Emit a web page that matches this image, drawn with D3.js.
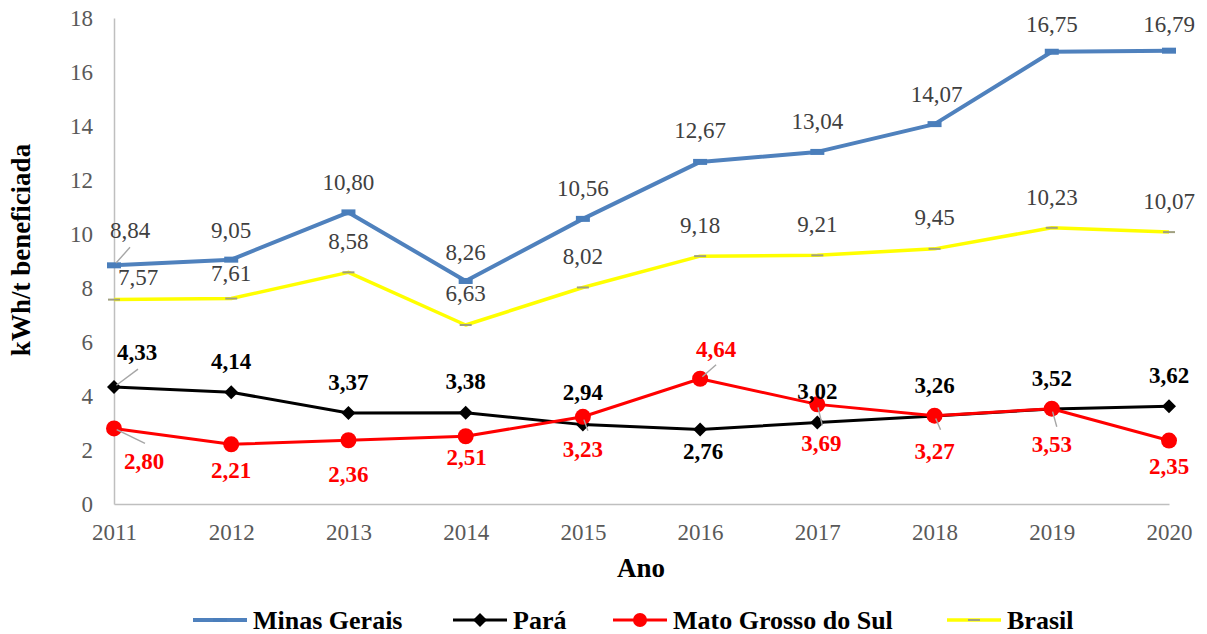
<!DOCTYPE html>
<html><head><meta charset="utf-8">
<script src="https://cdn.jsdelivr.net/npm/d3@7"></script>
<style>body{margin:0;background:#fff}svg{display:block}
svg text{font-family:"Liberation Serif","Times New Roman",Times,serif}</style>
</head><body><svg id="c" width="1207" height="634"></svg>
<script>
const years = ["2011","2012","2013","2014","2015","2016","2017","2018","2019","2020"];
const minasGerais = [8.84,9.05,10.80,8.26,10.56,12.67,13.04,14.07,16.75,16.79];
const para = [4.33,4.14,3.37,3.38,2.94,2.76,3.02,3.26,3.52,3.62];
const matoGrossoDoSul = [2.80,2.21,2.36,2.51,3.23,4.64,3.69,3.27,3.53,2.35];
const brasil = [7.57,7.61,8.58,6.63,8.02,9.18,9.21,9.45,10.23,10.07];
const yTicks = [0,2,4,6,8,10,12,14,16,18];
const seriesNames = ["Minas Gerais","Pará","Mato Grosso do Sul","Brasil"];

const svg = d3.select("#c");
const x = d3.scalePoint().domain(years).range([114,1169]);
const y = d3.scaleLinear().domain([0,18]).range([504,18]);
const fmt = v => v.toFixed(2).replace(".",",");

// axes
const yAx = svg.append("g").attr("transform","translate(114,0)")
  .call(d3.axisLeft(y).tickValues(yTicks).tickSize(0).tickPadding(21));
yAx.select(".domain").attr("stroke","#bfbfbf").attr("stroke-width",1.5);
yAx.selectAll("text").attr("font-size",23).attr("fill","#595959");
const xAx = svg.append("g").attr("transform","translate(0,504)")
  .call(d3.axisBottom(x).tickSize(0).tickPadding(20));
xAx.select(".domain").attr("stroke","#bfbfbf").attr("stroke-width",1.5);
xAx.selectAll("text").attr("font-size",23).attr("fill","#595959");

svg.append("text").attr("x",641).attr("y",577).attr("text-anchor","middle")
  .attr("font-weight","bold").attr("font-size",27).text("Ano");
svg.append("text").attr("transform","translate(30,250) rotate(-90)").attr("text-anchor","middle")
  .attr("font-weight","bold").attr("font-size",27).text("kWh/t beneficiada");

const line = d3.line().x((d,i)=>x(years[i])).y(d=>y(d));

function drawSeries(vals, color, w){
  svg.append("path").datum(vals).attr("d",line).attr("fill","none")
    .attr("stroke",color).attr("stroke-width",w).attr("stroke-linejoin","round");
}
drawSeries(brasil,"#ffff00",3.5);
drawSeries(minasGerais,"#4f81bd",4);
drawSeries(para,"#000",3);
drawSeries(matoGrossoDoSul,"#ff0000",3);

// markers
svg.selectAll(".mgm").data(minasGerais).join("rect")
  .attr("x",(d,i)=>x(years[i])-7).attr("y",d=>y(d)-3).attr("width",14).attr("height",6).attr("fill","#4a7ebb");
svg.selectAll(".brm").data(brasil).join("rect")
  .attr("x",(d,i)=>x(years[i])-6).attr("y",d=>y(d)-1).attr("width",12).attr("height",2).attr("fill","#a0a080");
svg.selectAll(".pam").data(para).join("path")
  .attr("transform",(d,i)=>`translate(${x(years[i])},${y(d)})`)
  .attr("d","M0,-7L7,0L0,7L-7,0Z").attr("fill","#000");
svg.selectAll(".msm").data(matoGrossoDoSul).join("circle")
  .attr("cx",(d,i)=>x(years[i])).attr("cy",d=>y(d)).attr("r",8).attr("fill","#ff0000");

// label layout offsets: [dx, dy] and optional leader end [lx, ly] relative to point
const mgPos = [[16,-35,[16,-18]],[0,-29],[0,-30],[0,-29],[0,-30],[0,-32],[0,-31],[2,-30],[0,-27],[0,-26]];
const brPos = [[24,-22],[0,-25],[0,-31],[0,-32],[0,-31],[0,-31],[0,-31],[0,-31],[0,-30],[0,-31]];
const paPos = [[23,-35,[24,-18]],[0,-31],[0,-31],[0,-31],[0,-32],[3,22],[0,-31],[0,-31],[0,-31],[0,-31]];
const msPos = [[30,33,[31,15]],[0,26],[0,34],[1,21],[0,33,[5,14]],[16,-29,[16,-14]],[4,39,[5,21]],[0,36,[6,14]],[0,36,[5,18]],[0,26]];

function labels(vals,pos,color,bold){
  vals.forEach((v,i)=>{
    const px=x(years[i]), py=y(v), p=pos[i];
    if(p[2]){
      const ex=p[2][0], ey=p[2][1];
      const len=Math.hypot(ex,ey), s=3/len;
      svg.append("line").attr("x1",px+ex*s).attr("y1",py+ey*s).attr("x2",px+ex).attr("y2",py+ey)
        .attr("stroke","#a6a6a6").attr("stroke-width",1.4);
    }
    svg.append("text").attr("x",px+p[0]).attr("y",py+p[1]).attr("dy","0.33em")
      .attr("text-anchor","middle")
      .attr("font-weight",bold?"bold":"normal").attr("font-size",23)
      .attr("fill",color).text(fmt(v));
  });
}
labels(minasGerais,mgPos,"#404040",false);
labels(brasil,brPos,"#404040",false);
labels(para,paPos,"#000",true);
labels(matoGrossoDoSul,msPos,"#ff0000",true);

// legend
const legX = [193,453,613,947];
const legColors = ["#4f81bd","#000","#ff0000","#ffff00"];
seriesNames.forEach((n,i)=>{
  const g = svg.append("g").attr("transform",`translate(${legX[i]},620)`);
  g.append("line").attr("x1",0).attr("x2",54).attr("stroke",legColors[i]).attr("stroke-width",i===0?4:(i===3?3.5:3));
  if(i===0) g.append("rect").attr("x",20).attr("y",-2).attr("width",14).attr("height",4).attr("fill","#4a7ebb");
  if(i===1) g.append("path").attr("d","M27,-7L34,0L27,7L20,0Z").attr("fill","#000");
  if(i===2) g.append("circle").attr("cx",27).attr("r",7).attr("fill","#ff0000");
  if(i===3) g.append("rect").attr("x",21).attr("y",-1).attr("width",12).attr("height",2).attr("fill","#a0a080");
  g.append("text").attr("x",60).attr("dy","0.35em").attr("font-weight","bold")
    .attr("font-size",26).text(n);
});
</script></body></html>
